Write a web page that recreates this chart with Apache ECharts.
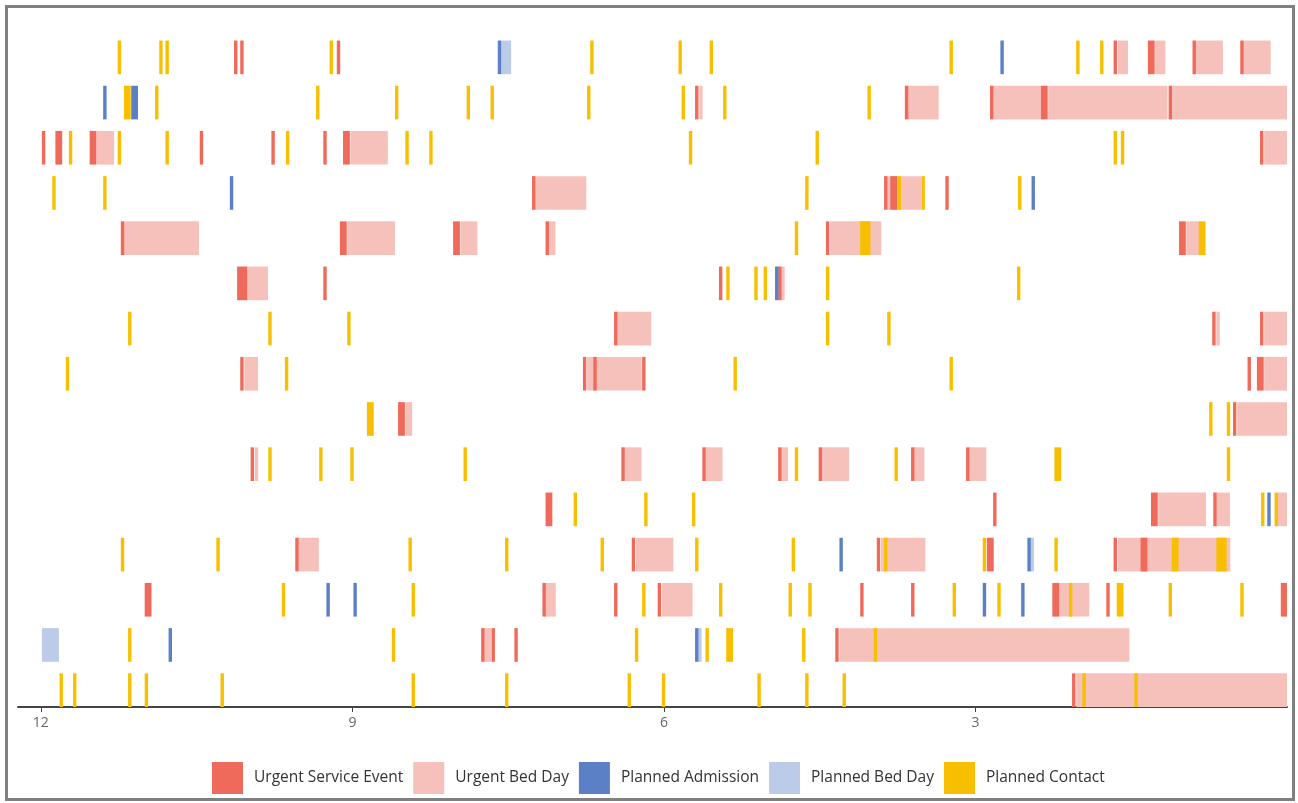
<!DOCTYPE html>
<html>
<head>
<meta charset="utf-8">
<title>Service timeline</title>
<script src="https://cdn.jsdelivr.net/npm/echarts@6.0.0/dist/echarts.min.js"></script>
<style>
  html, body { margin: 0; padding: 0; background: #fff; }
  #chart { position: absolute; left: 0; top: 0; width: 1298px; height: 803px; }
  #frame { position: absolute; left: 5px; top: 5px; width: 1290px; height: 796px;
           border: 3px solid #808080; box-sizing: border-box; pointer-events: none; }
</style>
</head>
<body>
<div id="chart"></div>
<div id="frame"></div>
<script>
// months before today shown on the axis
var tickLabels = [12, 9, 6, 3];
var rowCount = 15;

// every event: [row (0 = top), start in months ago, length in days]
var urgentEvents = [
  [0, 10.14, 1], [0, 10.08, 1], [0, 9.15, 1], [0, 1.67, 1], [0, 1.34, 2], [0, 0.91, 1], [0, 0.45, 1],
  [1, 5.70, 1], [1, 3.68, 1], [1, 2.86, 1], [1, 2.37, 2], [1, 1.14, 1],
  [2, 11.99, 1], [2, 11.86, 2], [2, 11.53, 2], [2, 10.47, 1], [2, 9.78, 1], [2, 9.28, 1], [2, 9.09, 2], [2, 0.26, 1],
  [3, 7.27, 1], [3, 3.88, 1], [3, 3.82, 2], [3, 3.29, 1],
  [4, 11.23, 1], [4, 9.12, 2], [4, 8.03, 2], [4, 7.14, 1], [4, 4.44, 1], [4, 1.04, 2],
  [5, 10.11, 3], [5, 9.28, 1], [5, 5.47, 1], [5, 4.90, 1],
  [6, 6.48, 1], [6, 0.72, 1], [6, 0.26, 1],
  [7, 10.08, 1], [7, 6.78, 1], [7, 6.68, 1], [7, 6.21, 1], [7, 0.38, 1], [7, 0.29, 2],
  [8, 8.56, 2], [8, 0.52, 1],
  [9, 9.98, 1], [9, 6.41, 1], [9, 5.63, 1], [9, 4.90, 1], [9, 4.51, 1], [9, 3.62, 1], [9, 3.09, 1],
  [10, 7.14, 2], [10, 2.83, 1], [10, 1.31, 2], [10, 0.71, 1],
  [11, 9.55, 1], [11, 6.31, 1], [11, 3.95, 1], [11, 2.89, 2], [11, 1.67, 1], [11, 1.41, 2],
  [12, 11.00, 2], [12, 7.17, 1], [12, 6.48, 1], [12, 6.06, 1], [12, 4.11, 1], [12, 3.62, 1], [12, 2.26, 2], [12, 1.74, 1], [12, 0.06, 2],
  [13, 7.76, 1], [13, 7.66, 1], [13, 7.44, 1], [13, 4.35, 1],
  [14, 2.07, 1]
];

var urgentBedDays = [
  [0, 1.63, 3], [0, 1.27, 3], [0, 0.88, 8], [0, 0.42, 8],
  [1, 5.66, 1], [1, 3.65, 9], [1, 2.83, 14], [1, 2.30, 35], [1, 1.11, 34],
  [2, 11.46, 5], [2, 9.02, 11], [2, 0.22, 7],
  [3, 7.24, 15], [3, 3.85, 10],
  [4, 11.20, 22], [4, 9.05, 14], [4, 7.96, 5], [4, 7.11, 2], [4, 4.40, 15], [4, 0.97, 4],
  [5, 10.01, 6], [5, 4.87, 1],
  [6, 6.45, 10], [6, 0.68, 1], [6, 0.22, 7],
  [7, 10.04, 4], [7, 6.74, 16], [7, 0.22, 7],
  [8, 8.49, 2], [8, 0.48, 15],
  [9, 9.94, 1], [9, 6.38, 5], [9, 5.60, 5], [9, 4.87, 2], [9, 4.48, 8], [9, 3.59, 3], [9, 3.06, 5],
  [10, 1.24, 14], [10, 0.68, 4], [10, 0.09, 3],
  [11, 9.52, 6], [11, 6.27, 11], [11, 3.91, 13], [11, 1.63, 33],
  [12, 7.14, 3], [12, 6.02, 9], [12, 2.20, 9],
  [13, 7.73, 2], [13, 4.31, 85],
  [14, 2.03, 62]
];

var plannedAdmissions = [
  [0, 7.60, 1], [0, 2.76, 1], [1, 11.40, 1], [1, 11.13, 2], [3, 10.18, 1], [3, 2.46, 1],
  [5, 4.93, 1], [10, 0.19, 1], [11, 4.31, 1], [11, 2.50, 1], [12, 9.25, 1], [12, 8.99, 1],
  [12, 2.93, 1], [12, 2.56, 1], [13, 10.77, 1], [13, 5.70, 1]
];

var plannedBedDays = [
  [0, 7.57, 3], [11, 2.47, 1], [13, 11.99, 5], [13, 5.67, 1]
];

var plannedContacts = [
  [0, 11.26, 1], [0, 10.86, 1], [0, 10.80, 1], [0, 9.22, 1], [0, 6.71, 1], [0, 5.86, 1], [0, 5.56, 1], [0, 3.25, 1], [0, 2.03, 1], [0, 1.80, 1],
  [1, 11.20, 2], [1, 10.90, 1], [1, 9.35, 1], [1, 8.59, 1], [1, 7.90, 1], [1, 7.67, 1], [1, 6.74, 1], [1, 5.83, 1], [1, 5.43, 1], [1, 4.04, 1],
  [2, 11.73, 1], [2, 11.26, 1], [2, 10.80, 1], [2, 9.64, 1], [2, 8.49, 1], [2, 8.26, 1], [2, 5.76, 1], [2, 4.54, 1], [2, 1.67, 1], [2, 1.60, 1],
  [3, 11.89, 1], [3, 11.40, 1], [3, 4.64, 1], [3, 3.75, 1], [3, 3.52, 1], [3, 2.59, 1],
  [4, 4.74, 1], [4, 4.11, 3], [4, 0.85, 2],
  [5, 5.40, 1], [5, 5.13, 1], [5, 5.04, 1], [5, 4.44, 1], [5, 2.60, 1],
  [6, 11.16, 1], [6, 9.81, 1], [6, 9.05, 1], [6, 4.44, 1], [6, 3.85, 1],
  [7, 11.76, 1], [7, 9.65, 1], [7, 5.33, 1], [7, 3.25, 1],
  [8, 8.86, 2], [8, 0.75, 1], [8, 0.58, 1],
  [9, 9.81, 1], [9, 9.32, 1], [9, 9.02, 1], [9, 7.93, 1], [9, 4.74, 1], [9, 3.78, 1], [9, 2.24, 2], [9, 0.58, 1],
  [10, 6.87, 1], [10, 6.19, 1], [10, 5.73, 1], [10, 0.25, 1], [10, 0.12, 1],
  [11, 11.23, 1], [11, 10.31, 1], [11, 8.46, 1], [11, 7.53, 1], [11, 6.61, 1], [11, 5.70, 1], [11, 4.77, 1], [11, 3.88, 1],
  [11, 2.93, 1], [11, 2.24, 1], [11, 1.11, 2], [11, 0.68, 3],
  [12, 9.68, 1], [12, 8.43, 1], [12, 6.21, 1], [12, 5.47, 1], [12, 4.80, 1], [12, 4.61, 1], [12, 3.22, 1], [12, 2.79, 1],
  [12, 2.10, 1], [12, 1.64, 2], [12, 1.14, 1], [12, 0.45, 1],
  [13, 11.16, 1], [13, 8.62, 1], [13, 6.28, 1], [13, 5.60, 1], [13, 5.40, 2], [13, 4.67, 1], [13, 3.98, 1],
  [14, 11.82, 1], [14, 11.69, 1], [14, 11.16, 1], [14, 11.00, 1], [14, 10.27, 1], [14, 8.43, 1], [14, 7.53, 1],
  [14, 6.35, 1], [14, 6.02, 1], [14, 5.10, 1], [14, 4.64, 1], [14, 4.28, 1], [14, 1.97, 1], [14, 1.47, 1]
];

var DAYS_PER_MONTH = 30.44;
var BAR_FILL = 0.745; // share of a row taken by the bar (bars sit on the row's bottom)

// [row from bottom, from, to] in months ago
function toItems(list) {
  return list.map(function (d) {
    var from = d[1];
    var to = Math.max(0, d[1] - d[2] / DAYS_PER_MONTH);
    return [rowCount - 1 - d[0], from, to];
  });
}

function renderBar(params, api) {
  var row = api.value(0);
  var p0 = api.coord([api.value(1), row + BAR_FILL]);
  var p1 = api.coord([api.value(2), row]);
  return {
    type: 'rect',
    shape: {
      x: Math.min(p0[0], p1[0]),
      y: p0[1],
      width: Math.abs(p1[0] - p0[0]),
      height: p1[1] - p0[1]
    },
    style: api.style()
  };
}

function makeSeries(name, list, color, z) {
  return {
    name: name,
    type: 'custom',
    renderItem: renderBar,
    encode: { x: [1, 2], y: 0 },
    itemStyle: { color: color },
    data: toItems(list),
    z: z
  };
}

var myChart = echarts.init(document.getElementById('chart'));

var option = {
  animation: false,
  grid: { left: 18, right: 11, top: 29, bottom: 96 },
  legend: {
    left: 212,
    top: 762,
    padding: 0,
    icon: 'rect',
    itemWidth: 31,
    itemHeight: 32,
    itemGap: 10,
    textStyle: { fontFamily: 'Open Sans', fontSize: 15.5, color: '#333', padding: [0, 0, 0, 6] },
    data: ['Urgent Service Event', 'Urgent Bed Day', 'Planned Admission', 'Planned Bed Day', 'Planned Contact']
  },
  xAxis: {
    type: 'value',
    inverse: true,
    min: 0,
    max: 12.22,
    interval: 3,
    axisLine: { show: true, lineStyle: { color: '#444', width: 2 } },
    axisTick: { show: true, length: 5, customValues: tickLabels, lineStyle: { color: '#444' } },
    axisLabel: {
      customValues: tickLabels,
      color: '#666',
      fontFamily: 'Open Sans',
      fontSize: 14,
      margin: 9,
      formatter: function (v) { return tickLabels.indexOf(v) >= 0 ? String(v) : ''; }
    },
    splitLine: { show: false }
  },
  yAxis: {
    type: 'value',
    min: 0,
    max: rowCount,
    show: false,
    splitLine: { show: false }
  },
  series: [
    makeSeries('Urgent Service Event', urgentEvents, '#ef6a5a', 3),
    makeSeries('Urgent Bed Day', urgentBedDays, '#f7c1bb', 2),
    makeSeries('Planned Admission', plannedAdmissions, '#5b80c5', 3),
    makeSeries('Planned Bed Day', plannedBedDays, '#bccce8', 2),
    makeSeries('Planned Contact', plannedContacts, '#f8bf00', 4)
  ]
};

myChart.setOption(option);
</script>
</body>
</html>
